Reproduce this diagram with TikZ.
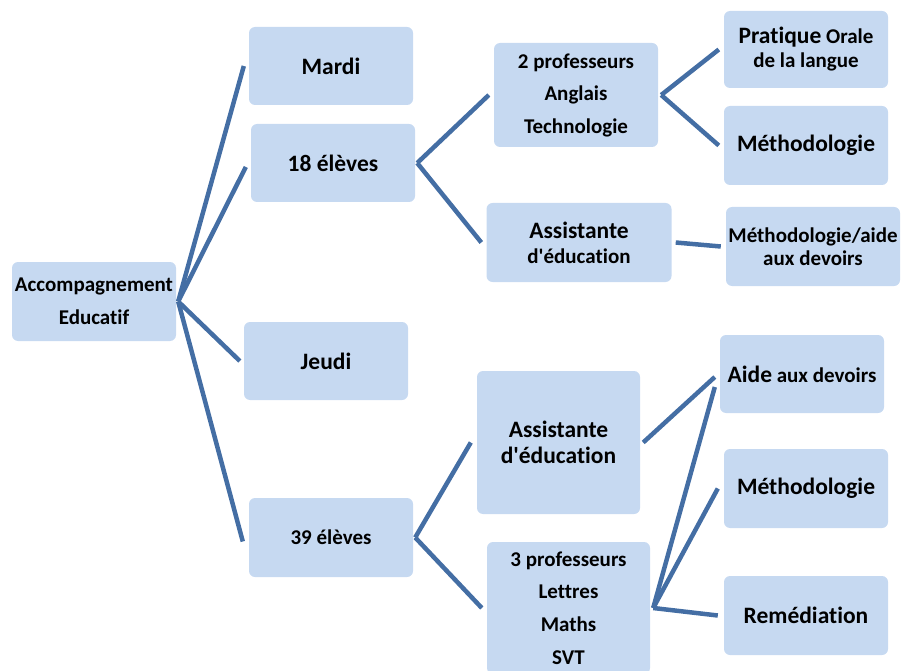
\documentclass[tikz,border=0pt]{standalone}
\usepackage{fontspec}
\setmainfont{Carlito}[Ligatures=NoCommon]
\definecolor{boxfill}{RGB}{198,217,241}
\definecolor{linkcol}{RGB}{68,110,164}
\newcommand\bigsz{\fontsize{23.5}{28}\selectfont}
\newcommand\smsz{\fontsize{21}{25}\selectfont}
\begin{document}
\begin{tikzpicture}[x=1pt,y=-1pt,
  box/.style={fill=boxfill, rounded corners=6pt, draw=none, align=center, inner sep=0pt, text=black},
  link/.style={draw=linkcol, line width=4.5pt}]
\useasboundingbox (0,0) rectangle (905,671);
\clip (0,0) rectangle (905,671);
% level 0
\node[box, minimum width=164pt, minimum height=79pt, font={\bfseries\fontsize{21}{33}\selectfont}] (acc) at (94,301.5) {Accompagnement\\Educatif};
% level 1
\node[box, minimum width=164pt, minimum height=78pt, font={\bfseries\bigsz}] (mardi) at (331,66) {Mardi};
\node[box, minimum width=164pt, minimum height=78pt, font={\bfseries\bigsz}] (el18) at (333,163) {18 élèves};
\node[box, minimum width=164pt, minimum height=78pt, font={\bfseries\bigsz}] (jeudi) at (326,361) {Jeudi};
\node[box, minimum width=164pt, minimum height=79pt, font={\bfseries\smsz}] (el39) at (331,537.5) {39 élèves};
% level 2
\node[box, minimum width=164pt, minimum height=104pt, font={\bfseries\fontsize{21}{32.5}\selectfont}] (prof2) at (576,95) {2 professeurs\\Anglais\\Technologie};
\node[box, minimum width=185pt, minimum height=79pt, font={\bfseries\fontsize{21}{25}\selectfont}] (asst1) at (579,242.5) {{\bigsz Assistante}\\d\textquotesingle éducation};
\node[box, minimum width=163pt, minimum height=143pt, font={\bfseries\fontsize{23.5}{26}\selectfont}] (asst2) at (558.5,442.5) {Assistante\\d\textquotesingle éducation};
\node[box, minimum width=163pt, minimum height=132pt, font={\bfseries\fontsize{21}{32.7}\selectfont}] (prof3) at (568.5,608) {3 professeurs\\Lettres\\Maths\\SVT};
% level 3
\node[box, minimum width=164pt, minimum height=77pt, font={\bfseries\fontsize{21}{24}\selectfont}] (prat) at (806,49.5) {{\bigsz Pratique} Orale\\de la langue};
\node[box, minimum width=164pt, minimum height=79pt, font={\bfseries\bigsz}] (meth1) at (806,145.5) {Méthodologie};
\node[box, minimum width=174pt, minimum height=79pt, font={\bfseries\fontsize{21}{23}\selectfont}] (methaide) at (813,246.5) {Méthodologie/aide\\aux devoirs};
\node[box, minimum width=164pt, minimum height=78pt, font={\bfseries\smsz}] (aide) at (802,374) {{\bigsz Aide} aux devoirs};
\node[box, minimum width=164pt, minimum height=79pt, font={\bfseries\bigsz}] (meth2) at (806,488.5) {Méthodologie};
\node[box, minimum width=164pt, minimum height=79pt, font={\bfseries\bigsz}] (remed) at (806,615.5) {Remédiation};
% junctions
\coordinate (j0) at ([xshift=2pt]acc.east);
\coordinate (j1) at ([xshift=2pt]el18.east);
\coordinate (j2) at ([xshift=3pt]prof2.east);
\coordinate (j3) at ([xshift=2pt]el39.east);
\coordinate (j4) at ([xshift=3pt]prof3.east);
% connectors
\draw[link] (j0) -- ([xshift=-5pt]mardi.west);
\draw[link] (j0) -- ([xshift=-5pt,yshift=-4pt]el18.west);
\draw[link] (j0) -- ([xshift=-4pt]jeudi.west);
\draw[link] (j0) -- ([xshift=-6pt,yshift=-4pt]el39.west);
\draw[link] (j1) -- ([xshift=-5pt]prof2.west);
\draw[link] (j1) -- ([xshift=-5pt]asst1.west);
\draw[link] (j2) -- ([xshift=-5pt]prat.west);
\draw[link] (j2) -- ([xshift=-5pt]meth1.west);
\draw[link] ([xshift=4pt]asst1.east) -- ([xshift=-5pt]methaide.west);
\draw[link] (j3) -- ([xshift=-6pt]asst2.west);
\draw[link] (j3) -- ([xshift=-5pt]prof3.west);
\draw[link] ([xshift=3pt]asst2.east) -- ([xshift=-5pt,yshift=-3pt]aide.west);
\draw[link] (j4) -- ([xshift=-5pt,yshift=-13pt]aide.west);
\draw[link] (j4) -- ([xshift=-6pt]meth2.west);
\draw[link] (j4) -- ([xshift=-6pt]remed.west);
\end{tikzpicture}
\end{document}
